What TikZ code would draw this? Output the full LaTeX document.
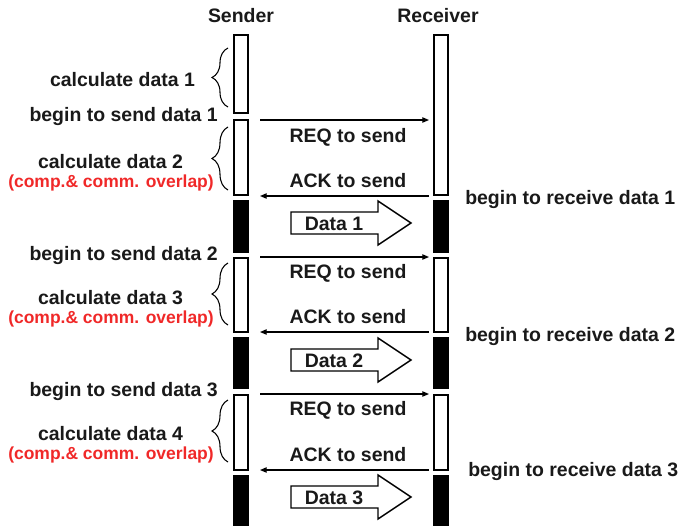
\documentclass[tikz,border=0pt]{standalone}
\usepackage{fontspec}
\setmainfont{Liberation Sans}
\usetikzlibrary{decorations.pathreplacing,arrows.meta}
\definecolor{ovred}{RGB}{240,40,40}
\begin{document}
\begin{tikzpicture}[x=0.75pt,y=-0.75pt,
  lbl/.style={font=\fontsize{14.6}{17}\selectfont\bfseries, inner sep=0pt, text=black!90},
  redlbl/.style={font=\fontsize{13.1}{15}\selectfont\bfseries, inner sep=0pt, text=ovred},
  wbar/.style={draw, line width=1.3pt, fill=white, minimum width=10.5pt, inner sep=0pt},
  bbar/.style={draw=none, fill=black, minimum width=11.3pt, inner sep=0pt},
  msg/.style={line width=0.9pt, -{Triangle[length=5pt,width=4pt]}},
  calcbrace/.style={decorate, decoration={brace, amplitude=12pt}, line width=0.8pt},
  dataarrow/.style={draw, line width=1.1pt, fill=white, line join=miter}
]
\useasboundingbox (0,0) rectangle (681,525);
% headers
\node[lbl] (hs) at (241,16) {Sender};
\node[lbl] (hr) at (438,16) {Receiver};
% sender bars
\node[wbar, minimum height=58.5pt] (s1) at (241,74) {};
\node[wbar, minimum height=56.25pt] (s2) at (241,157.5) {};
\node[bbar, minimum height=39.75pt] (sb1) at (241,226.5) {};
\node[wbar, minimum height=55.5pt] (s3) at (241,295) {};
\node[bbar, minimum height=39pt] (sb2) at (241,363) {};
\node[wbar, minimum height=56.25pt] (s4) at (241,432.5) {};
\node[bbar, minimum height=45pt] (sb3) at (241,505) {};
% receiver bars
\node[wbar, minimum height=120pt] (r1) at (441,115) {};
\node[bbar, minimum height=39.75pt] (rb1) at (441,226.5) {};
\node[wbar, minimum height=55.5pt] (r2) at (441,295) {};
\node[bbar, minimum height=39pt] (rb2) at (441,363) {};
\node[wbar, minimum height=56.25pt] (r3) at (441,432.5) {};
\node[bbar, minimum height=45pt] (rb3) at (441,505) {};
% message end points
\coordinate (q1s) at (260,120); \coordinate (q1r) at (429,120);
\coordinate (a1s) at (260,196); \coordinate (a1r) at (429,196);
\coordinate (q2s) at (260,257); \coordinate (q2r) at (429,257);
\coordinate (a2s) at (260,332); \coordinate (a2r) at (429,332);
\coordinate (q3s) at (260,394); \coordinate (q3r) at (429,394);
\coordinate (a3s) at (260,470); \coordinate (a3r) at (429,470);
\draw[msg] (q1s) -- (q1r);
\draw[msg] (a1r) -- (a1s);
\draw[msg] (q2s) -- (q2r);
\draw[msg] (a2r) -- (a2s);
\draw[msg] (q3s) -- (q3r);
\draw[msg] (a3r) -- (a3s);
\node[lbl] (ql1) at (348,137) {REQ to send};
\node[lbl] (al1) at (348,181) {ACK to send};
\node[lbl] (ql2) at (348,273) {REQ to send};
\node[lbl] (al2) at (348,317) {ACK to send};
\node[lbl] (ql3) at (348,410) {REQ to send};
\node[lbl] (al3) at (348,455) {ACK to send};
% data arrows
\foreach \c/\n in {223/1,360/2,497/3}{
  \draw[dataarrow] (291,\c-11) -- (378,\c-11) -- (378,\c-22) -- (411,\c) -- (378,\c+22) -- (378,\c+11) -- (291,\c+11) -- cycle;
  \node[lbl] (d\n) at (334,\c+1) {Data \n};
}
% braces
\draw[calcbrace] (228,107) -- (228,48);
\draw[calcbrace] (228,190) -- (228,127);
\draw[calcbrace] (228,325) -- (228,263);
\draw[calcbrace] (228,462) -- (228,400);
% left labels
\node[lbl] (c1) at (122.5,80) {calculate data 1};
\node[lbl, anchor=east] (bs1) at (218,117) {begin to send data 1};
\node[lbl] (c2) at (110.5,162) {calculate data 2};
\node[redlbl] (o2) at (111,183) {(comp.\& comm. overlap)};
\node[lbl, anchor=east] (bs2) at (218,256) {begin to send data 2};
\node[lbl] (c3) at (110.5,298) {calculate data 3};
\node[redlbl] (o3) at (111,319) {(comp.\& comm. overlap)};
\node[lbl, anchor=east] (bs3) at (218,392) {begin to send data 3};
\node[lbl] (c4) at (110.5,434) {calculate data 4};
\node[redlbl] (o4) at (111,455) {(comp.\& comm. overlap)};
% right labels
\node[lbl, anchor=west] (br1) at (465,200) {begin to receive data 1};
\node[lbl, anchor=west] (br2) at (465,337) {begin to receive data 2};
\node[lbl, anchor=west] (br3) at (468,472) {begin to receive data 3};
\end{tikzpicture}
\end{document}
